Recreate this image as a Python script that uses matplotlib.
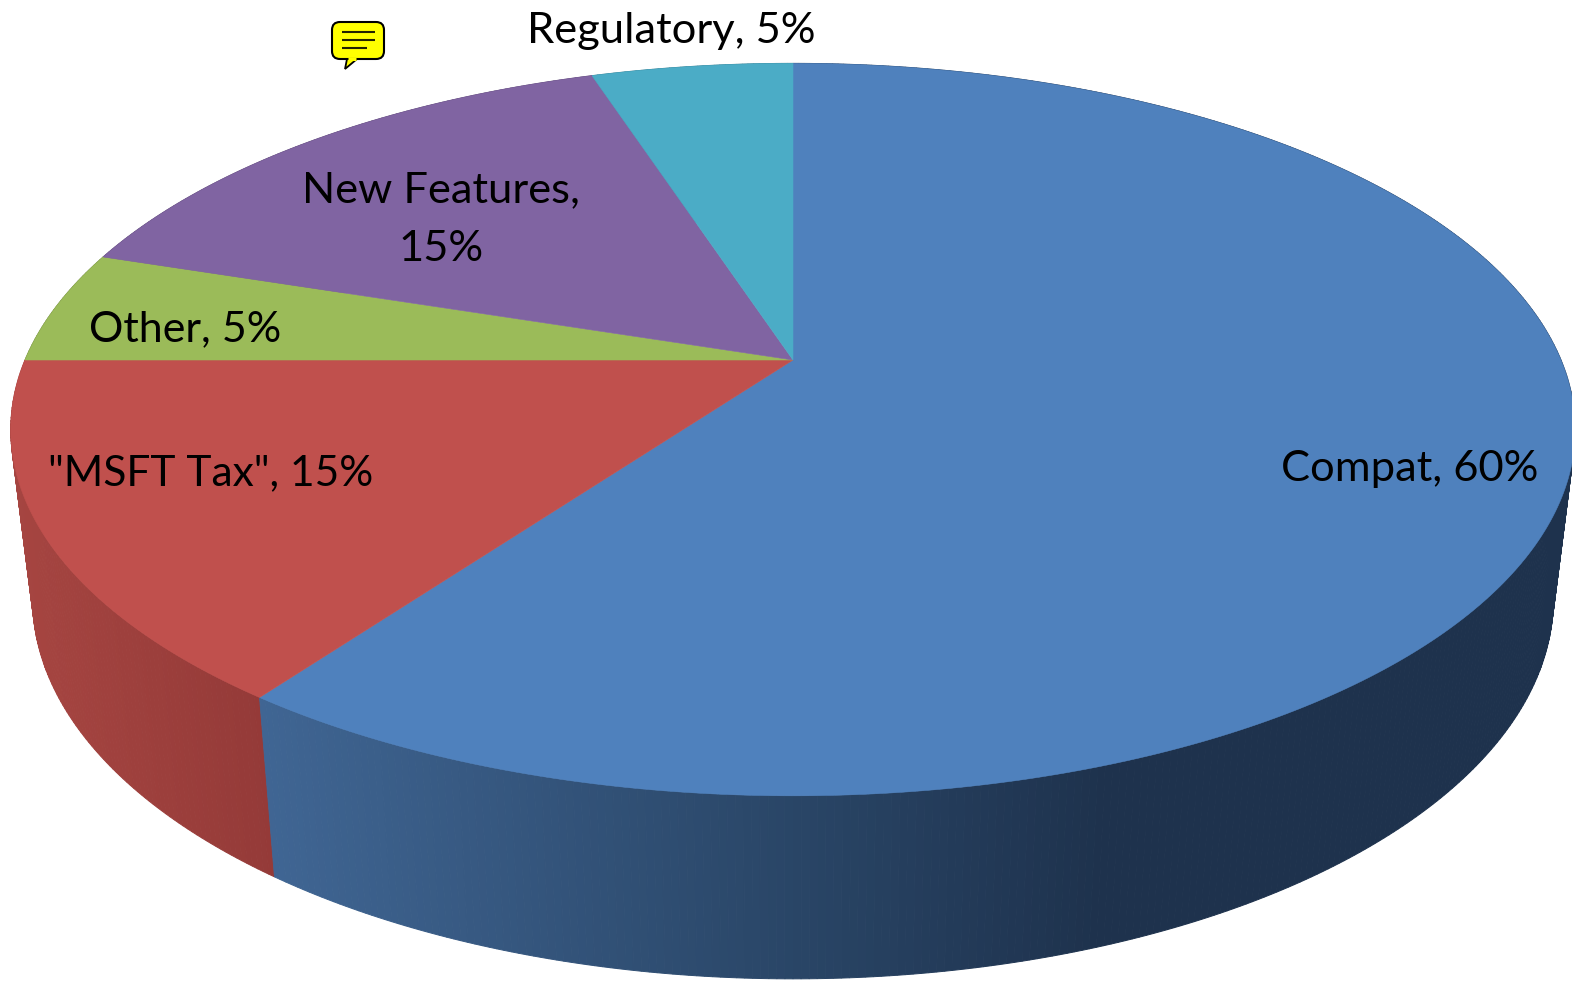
import numpy as np
import matplotlib
matplotlib.use("Agg")
import matplotlib.pyplot as plt
from matplotlib.patches import FancyBboxPatch, Polygon

# ---- data ----
categories = ["Compat", "\"MSFT Tax\"", "Other", "New Features", "Regulatory"]
values = [60, 15, 5, 15, 5]
label_texts = ["Compat, 60%", "\"MSFT Tax\", 15%", "Other, 5%", "New Features,\n15%", "Regulatory, 5%"]
top_colors = ["#4F81BD", "#C0504D", "#9BBB59", "#8064A2", "#4BACC6"]

# ---- style / geometry ----
W, H = 1572, 984
CX, CY = 793, 360          # apex of the pie on the top face
RX, RY, K = 768, 353, 0.19
LOW_X, LOW_CX, LOW_CY, LOW_RY = 0.972, 793, 527, 366
label_pos = [(1410, 481), (211, 485), (185, 341), (441, 261), (671, 43)]
label_sizes = [31.3, 30.6, 31.0, 31.3, 31.3]
ramp_x = [260, 800, 1100, 1572]
ramp_blue = [(64, 102, 148), (41, 69, 102), (30, 50, 77), (30, 50, 77)]
ramp_red_x = [20, 275]
ramp_red = [(166, 69, 65), (148, 58, 56)]
FONT = "Lato"


def project(theta, low=False):
    """theta clockwise from 12 o'clock, onto the perspective ellipse."""
    X, Y = np.sin(theta), np.cos(theta)
    d = 1 + K * Y
    if low:
        return LOW_CX + LOW_X * RX * X / d, LOW_CY - LOW_RY * Y / d
    return CX + RX * X / d, CY - RY * Y / d


def side_color(i, x):
    if i == 0:
        c = [np.interp(x, ramp_x, [r[j] for r in ramp_blue]) for j in range(3)]
    elif i == 1:
        c = [np.interp(x, ramp_red_x, [r[j] for r in ramp_red]) for j in range(3)]
    else:
        c = [v * 0.7 for v in matplotlib.colors.to_rgb(top_colors[i])]
        return c
    return [v / 255 for v in c]


fig = plt.figure(figsize=(W / 100, H / 100), dpi=100, facecolor="white")
ax = fig.add_axes([0, 0, 1, 1])
ax.set_xlim(0, W)
ax.set_ylim(H, 0)
ax.axis("off")

fracs = np.array(values, dtype=float) / sum(values)
edges = np.concatenate([[0], np.cumsum(fracs)]) * 2 * np.pi

# side wall, back to front
quads = []
for i in range(len(values)):
    ts = np.arange(edges[i], edges[i + 1] + 1e-9, np.radians(0.5))
    ts[-1] = edges[i + 1]
    for a, b in zip(ts[:-1], ts[1:]):
        quads.append((np.cos((a + b) / 2), i, a, b))
quads.sort(key=lambda q: -q[0])
for _, i, a, b in quads:
    xa, ya = project(a)
    xb, yb = project(b)
    xc, yc = project(b, low=True)
    xd, yd = project(a, low=True)
    col = side_color(i, (xa + xb + xc + xd) / 4)
    ax.add_patch(Polygon([(xa, ya), (xb, yb), (xc, yc), (xd, yd)], closed=True,
                         facecolor=col, edgecolor=col, linewidth=0.7, zorder=1))

# top face
for i in range(len(values)):
    ts = np.linspace(edges[i], edges[i + 1], 300)
    x, y = project(ts)
    ax.fill(np.r_[CX, x], np.r_[CY, y], facecolor=top_colors[i],
            edgecolor=top_colors[i], linewidth=0.4, zorder=2)

# labels
for txt, (lx, ly), fs in zip(label_texts, label_pos, label_sizes):
    ax.text(lx, ly, txt, fontsize=fs, family=FONT, color="black", ha="center",
            va="baseline", linespacing=1.66, zorder=5)

# comment icon
ax.add_patch(FancyBboxPatch((339, 29), 38, 23, boxstyle="round,pad=7,rounding_size=8",
                            facecolor="#FFFF00", edgecolor="black", linewidth=1.5, zorder=6))
ax.add_patch(Polygon([(347, 59), (345, 69), (357, 59)], closed=True, facecolor="#FFFF00",
                     edgecolor="black", linewidth=1.3, zorder=6))
ax.plot([347.5, 356], [59, 59], color="#FFFF00", lw=2.2, zorder=7, solid_capstyle="butt")
for yy, x1 in ((32, 375), (40, 375), (48, 367)):
    ax.plot([342, x1], [yy, yy], color="#222200", lw=1.5, zorder=7, solid_capstyle="butt")

fig.savefig("out.png", dpi=100, facecolor="white")
